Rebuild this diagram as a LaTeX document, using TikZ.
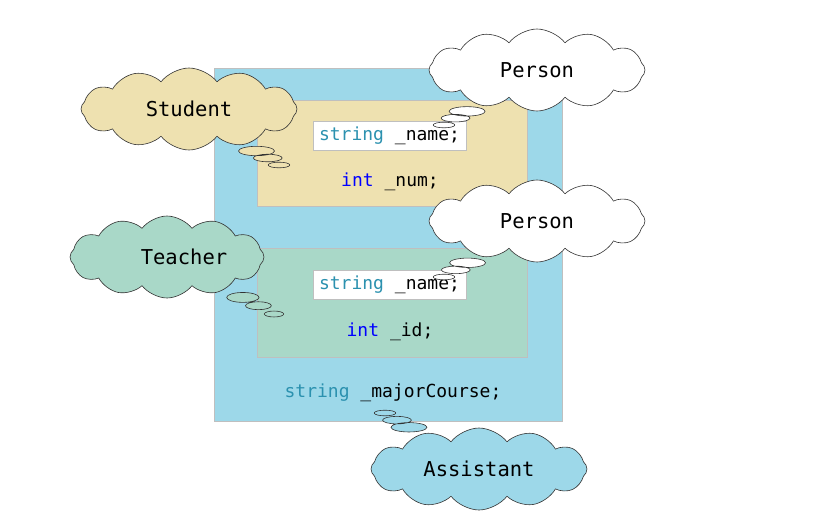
\documentclass[tikz,border=0pt]{standalone}
\usepackage{fontspec}
\setmonofont{DejaVu Sans Mono}
\usetikzlibrary{shapes.symbols,shapes.callouts}
\definecolor{outerblue}{HTML}{9DD8E9}
\definecolor{tanfill}{HTML}{EEE1B0}
\definecolor{greenfill}{HTML}{A9D8C8}
\definecolor{boxgray}{HTML}{BFBFBF}
\definecolor{typecol}{HTML}{2B91AF}
\definecolor{kwcol}{HTML}{0000FF}
\tikzset{
  region/.style={draw=boxgray, line width=1.2pt, anchor=north west, inner sep=0pt},
  namebox/.style={draw=boxgray, fill=white, line width=1pt, minimum width=153pt, minimum height=29pt, inner sep=0pt, font=\ttfamily\fontsize{18}{21}\selectfont},
  code/.style={font=\ttfamily\fontsize{18}{21}\selectfont, inner sep=0pt},
  thought/.style={cloud callout, cloud puffs=12, cloud puff arc=105, cloud ignores aspect,
    draw=black!80, line width=0.6pt, minimum width=216pt, minimum height=82pt,
    callout pointer segments=3, font=\ttfamily\fontsize{20.5}{24}\selectfont}
}
\begin{document}
\begin{tikzpicture}[x=1pt,y=-1pt]
\useasboundingbox (0,0) rectangle (839,528);
% outer Assistant region
\node[region, fill=outerblue, minimum width=348pt, minimum height=353pt] (outer) at (214,68) {};
\node[region, fill=tanfill, minimum width=270pt, minimum height=106pt] (stud) at (257,100) {};
\node[region, fill=greenfill, minimum width=270pt, minimum height=109pt] (teach) at (257,248) {};
\node[namebox] (name1) at (389.5,135.5) {\textcolor{typecol}{string} \_name;};
\node[code] (num) at (390,182) {\textcolor{kwcol}{int} \_num;};
\node[namebox] (name2) at (389.5,285) {\textcolor{typecol}{string} \_name;};
\node[code] (id) at (390,332) {\textcolor{kwcol}{int} \_id;};
\node[code] (major) at (393,393) {\textcolor{typecol}{string} \_majorCourse;};
% thought clouds
\node[thought, fill=tanfill, callout absolute pointer={(279,165)}] (student) at (189,109) {Student};
\node[thought, fill=white, callout absolute pointer={(444,125)}] (person1) at (537,70) {Person};
\node[thought, fill=white, callout absolute pointer={(444,277)}] (person2) at (537,221) {Person};
\node[thought, fill=greenfill, minimum width=194pt, callout absolute pointer={(274,314)}] (teacher) at (167,257) {\hspace*{34pt}Teacher};
\node[thought, fill=outerblue, callout absolute pointer={(385,413)}] (assistant) at (479,469) {Assistant};
\end{tikzpicture}
\end{document}
